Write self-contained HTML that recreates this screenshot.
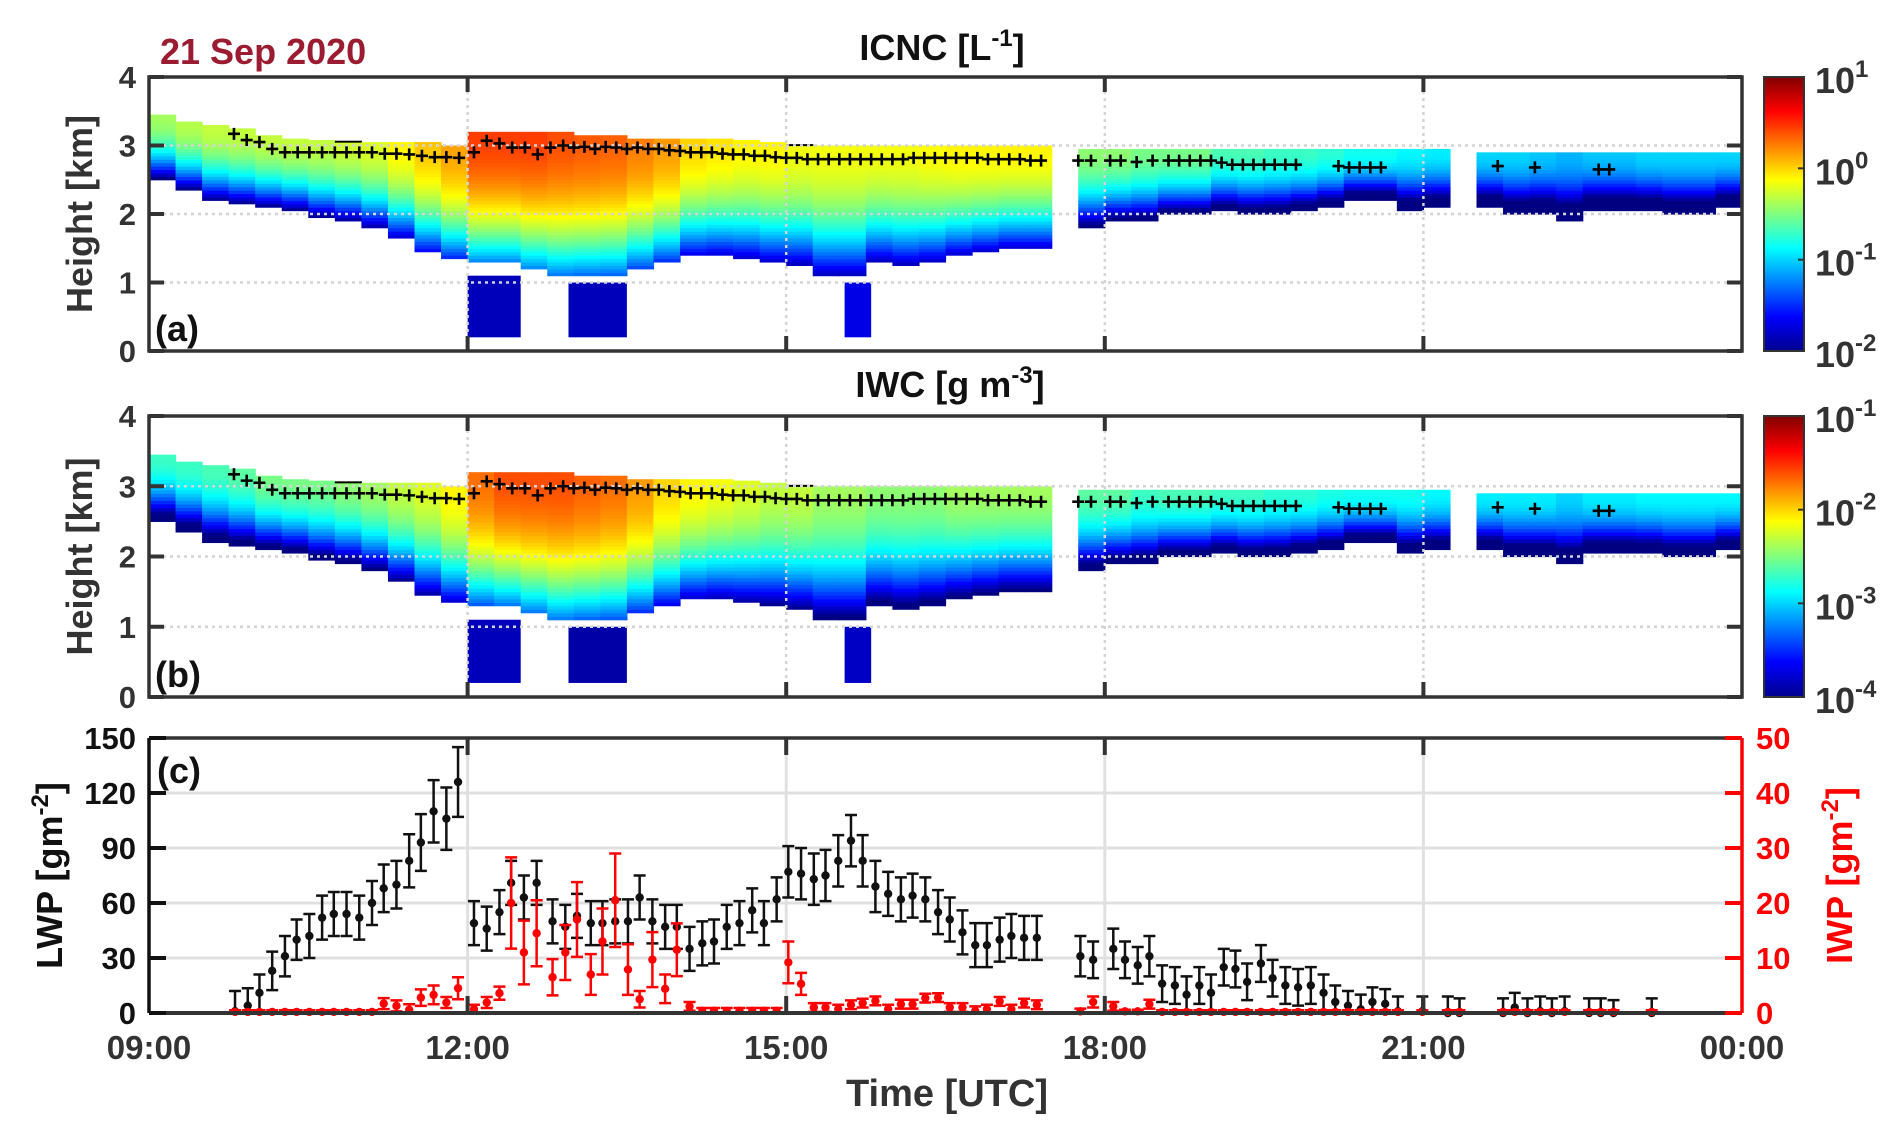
<!DOCTYPE html>
<html><head><meta charset="utf-8"><title>ICNC / IWC / LWP 21 Sep 2020</title>
<style>
html,body{margin:0;padding:0;background:#fff;}
svg{display:block;font-family:"Liberation Sans",Arial,sans-serif;font-weight:bold;}
</style></head>
<body>
<svg id="fig" xmlns="http://www.w3.org/2000/svg" width="1892" height="1133" viewBox="0 0 1892 1133">
<defs>
<linearGradient id="jet" x1="0" y1="1" x2="0" y2="0">
<stop offset="0" stop-color="#00008f"/><stop offset="0.125" stop-color="#0000ff"/>
<stop offset="0.375" stop-color="#00ffff"/><stop offset="0.625" stop-color="#ffff00"/>
<stop offset="0.875" stop-color="#ff0000"/><stop offset="1" stop-color="#800000"/>
</linearGradient>
</defs>
<rect width="1892" height="1133" fill="#fff"/>
<text x="160" y="64" font-size="36" fill="#9b1b30">21 Sep 2020</text>
<text x="942" y="60" font-size="36" fill="#111" text-anchor="middle">ICNC [L<tspan dy="-14" font-size="24">-1</tspan><tspan dy="14">]</tspan></text>
<text x="950" y="397" font-size="36" fill="#111" text-anchor="middle">IWC [g m<tspan dy="-14" font-size="24">-3</tspan><tspan dy="14">]</tspan></text>
<g id="pa"></g>
<g id="pb"></g>
<g id="pc"></g>
<text x="947" y="1106" font-size="38" fill="#333" text-anchor="middle">Time [UTC]</text>
</svg>
<script>
// ---------- data ----------
const colStart = [9,9.25,9.5,9.75,10,10.25,10.5,10.75,11,11.25,11.5,11.75,12,12.25,12.5,12.75,13,13.25,13.5,13.75,14,14.25,14.5,14.75,15,15.25,15.5,15.75,16,16.25,16.5,16.75,17,17.25,17.5,17.75,18,18.25,18.5,18.75,19,19.25,19.5,19.75,20,20.25,20.5,20.75,21,21.25,21.5,21.75,22,22.25,22.5,22.75,23,23.25,23.5,23.75];
const cloudTop = [3.45,3.35,3.3,3.25,3.15,3.1,3.08,3.07,3.05,3.05,3.05,3.0,3.2,3.2,3.2,3.2,3.15,3.15,3.1,3.1,3.1,3.1,3.08,3.05,3.02,3.0,3.0,3.0,3.0,3.0,3.0,3.0,3.0,3.0,0,2.95,2.95,2.95,2.95,2.95,2.95,2.95,2.95,2.95,2.95,2.95,2.95,2.95,2.95,0,2.9,2.9,2.9,2.9,2.9,2.9,2.9,2.9,2.9,2.9];
const cloudBase = [2.5,2.35,2.2,2.15,2.1,2.05,1.95,1.9,1.8,1.65,1.45,1.35,1.3,1.3,1.2,1.1,1.1,1.1,1.2,1.3,1.4,1.4,1.35,1.3,1.25,1.1,1.1,1.3,1.25,1.3,1.4,1.45,1.5,1.5,0,1.8,1.9,1.9,2.0,2.0,2.05,2.0,2.0,2.05,2.1,2.2,2.2,2.05,2.1,0,2.1,2.0,2.0,1.9,2.05,2.05,2.05,2.0,2.0,2.1];
const icncPeak = [0.4,0.45,0.5,0.5,0.5,0.5,0.5,0.55,0.6,0.8,1.1,1.4,2.8,2.8,2.8,2.5,2.3,2.2,1.8,1.5,1.0,0.9,0.8,0.8,0.7,0.7,0.7,0.7,0.7,0.75,0.8,0.8,0.8,0.8,0,0.35,0.35,0.3,0.3,0.3,0.22,0.22,0.2,0.2,0.18,0.15,0.15,0.13,0.12,0,0.1,0.1,0.09,0.08,0.09,0.09,0.1,0.1,0.1,0.1];
const iwcPeak = [0.002,0.002,0.0022,0.0025,0.003,0.003,0.003,0.0035,0.004,0.005,0.006,0.008,0.02,0.025,0.025,0.025,0.022,0.02,0.015,0.01,0.008,0.007,0.006,0.005,0.005,0.004,0.004,0.0035,0.0035,0.0035,0.004,0.004,0.004,0.004,0,0.0025,0.0025,0.002,0.0022,0.0022,0.002,0.002,0.0018,0.0018,0.0016,0.0015,0.0015,0.0015,0.0013,0,0.0012,0.0012,0.0012,0.001,0.0012,0.0012,0.0013,0.0013,0.0013,0.0013];
const lowStart = [12.0,12.95,15.55];
const lowEnd = [12.5,13.5,15.8];
const lowTop = [1.1,1.0,1.0];
const lowIcnc = [0.015,0.015,0.02];
const lowIwc = [0.00015,0.00013,0.00016];
const crossT = [9.8,9.92,10.04,10.16,10.28,10.4,10.51,10.63,10.75,10.86,10.98,11.1,11.22,11.33,11.45,11.57,11.69,11.8,11.92,
 12.06,12.18,12.3,12.42,12.54,12.66,12.78,12.9,13.0,13.1,13.2,13.3,13.4,13.5,13.6,13.7,13.8,13.9,14.0,
 14.1,14.2,14.3,14.4,14.5,14.6,14.7,14.8,14.9,15.0,15.1,15.2,15.3,15.4,15.5,15.6,15.7,15.8,15.9,16.0,16.1,16.2,16.3,16.4,16.5,16.6,16.7,16.8,16.9,17.0,17.1,17.2,17.3,17.4,
 17.75,17.87,18.05,18.15,18.3,18.45,18.6,18.7,18.8,18.9,19.0,19.1,19.2,19.3,19.4,19.5,19.6,19.7,19.8,
 20.2,20.3,20.4,20.5,20.6,21.7,22.05,22.65,22.75];
const crossH = [3.17,3.08,3.05,2.95,2.9,2.9,2.9,2.9,2.9,2.9,2.9,2.9,2.88,2.88,2.87,2.85,2.83,2.83,2.82,
 2.9,3.07,3.03,2.97,2.97,2.87,2.97,3.0,2.97,2.98,2.95,2.98,2.97,2.95,2.97,2.95,2.95,2.93,2.92,
 2.9,2.9,2.9,2.88,2.87,2.87,2.85,2.85,2.83,2.82,2.82,2.8,2.8,2.8,2.8,2.8,2.8,2.8,2.8,2.8,2.8,2.82,2.82,2.82,2.82,2.82,2.82,2.82,2.8,2.8,2.8,2.8,2.78,2.78,
 2.78,2.78,2.78,2.78,2.76,2.78,2.78,2.78,2.78,2.78,2.78,2.75,2.72,2.72,2.72,2.72,2.72,2.72,2.72,
 2.7,2.68,2.68,2.68,2.68,2.7,2.68,2.65,2.65];
const wpT = [9.81,9.93,10.04,10.16,10.28,10.39,10.51,10.63,10.74,10.86,10.98,11.10,11.21,11.33,11.45,11.56,11.68,11.80,11.91,
 12.06,12.18,12.30,12.41,12.53,12.65,12.80,12.92,13.03,13.16,13.27,13.39,13.51,13.62,13.74,13.86,13.97,14.09,14.21,14.32,14.44,14.56,14.68,14.79,14.91,15.02,15.14,15.26,15.37,15.49,15.61,15.72,15.84,15.96,16.08,16.19,16.31,16.43,16.54,16.66,16.78,16.89,17.01,17.12,17.24,17.36,
 17.77,17.89,18.08,18.19,18.31,18.42,18.54,18.66,18.77,18.89,19.0,19.12,19.23,19.34,19.47,19.58,19.70,19.82,19.94,20.06,20.17,20.29,20.41,20.52,20.64,20.76,20.99,21.23,21.34,21.75,21.86,21.98,22.10,22.21,22.33,22.56,22.67,22.79,23.15];
const lwpV = [1,4,11,23,31,40,42,52,54,54,52,60,68,70,83,93,110,106,126,
 49,46,55,71,63,71,50,47,53,49,49,50,50,63,50,47,47,35,38,39,47,49,56,49,62,77,76,73,75,83,94,83,69,65,62,64,62,55,51,44,37,37,40,42,41,41,
 31,29,35,29,26,31,16,15,10,15,11,25,24,17,27,19,15,14,15,11,6,4,2,6,5,1,1,0,0,0,3,0,1,0,1,0,0,0,0];
const lwpE = [11,9.5,10,10.5,11,11,12,12,12,12,12,12,13,13,14.5,15.5,17,17,19,
 12,12,12,12,12,12,12,12,12,12,12,12,12,12,12,12,12,12,12,12,12,12,12,12,12,14,14,14,14,14,14,14,14,12,12,12,12,12,12,12,12,12,12,12,12,12,
 11,10,11,10,10,11,10,10,10,10,10,10,10,10,10,10,10,10,10,10,9,8,8,8,8,8,8,9,8,8,8,8,8,8,8,8,8,7,8];
const iwpV = [0.2,0.2,0.2,0.2,0.2,0.2,0.2,0.2,0.2,0.2,0.2,0.2,1.7,1.3,0.6,2.8,3.3,1.9,4.5,
 0.7,1.9,3.6,20,11,14.5,6.5,11,17,7,13,20.5,7.9,2.5,9.7,4.4,11.5,1.2,0.4,0.4,0.4,0.4,0.4,0.4,0.4,9.2,5.3,1,1,0.7,1.5,1.8,2.2,0.7,1.6,1.6,2.7,2.8,1,1,0.4,0.7,2.1,0.7,1.8,1.5,
 0.3,2,1.2,0.3,0.3,1.6,0.2,0.2,0.2,0.2,0.2,0.2,0.2,0.2,0.2,0.2,0.2,0.2,0.2,0.2,0.2,0.2,0.2,0.2,0.2,0.2,0.2,0.2,0.2,0.2,0.2,0.2,0.2,0.2,0.2,0.2,0.2,0.2,0.2];
const iwpE = [0.3,0.3,0.3,0.3,0.3,0.3,0.3,0.3,0.3,0.3,0.3,0.3,1,1,1,1.5,1.7,1,2,
 0.8,1,1.2,8.3,5.8,6,3.3,5,6.8,3.7,6,8.5,4.6,1.5,5,2.6,4.8,0.8,0.5,0.5,0.5,0.5,0.5,0.5,0.5,3.8,2,0.8,0.8,0.8,0.8,0.8,0.8,0.8,0.8,0.8,0.8,0.8,0.8,0.8,0.8,0.8,0.8,0.8,0.8,0.8,
 0.5,1,0.8,0.3,0.3,0.8,0.3,0.3,0.3,0.3,0.3,0.3,0.3,0.3,0.3,0.3,0.3,0.3,0.3,0.3,0.3,0.3,0.3,0.3,0.3,0.3,0.3,0.3,0.3,0.3,0.3,0.3,0.3,0.3,0.3,0.3,0.3,0.3,0.3];
const xTickLabels = ["09:00","12:00","15:00","18:00","21:00","00:00"];
const xTickHours = [9,12,15,18,21,24];
const hTicks = [0,1,2,3,4];
const lwpTicks = [0,30,60,90,120,150];
const iwpTicks = [0,10,20,30,40,50];

// ---------- helpers ----------
const NS = "http://www.w3.org/2000/svg";
function mk(parent, tag, attrs){
  const el = document.createElementNS(NS, tag);
  for (const k in attrs) el.setAttribute(k, attrs[k]);
  parent.appendChild(el);
  return el;
}
const X0 = 149, X1 = 1742;
function X(t){ return X0 + (t - 9) / 15 * (X1 - X0); }
function jet(v){
  v = Math.max(0, Math.min(1, v));
  const c = (a)=>Math.round(255*Math.max(0, Math.min(1, a)));
  return "rgb(" + c(1.5-Math.abs(4*v-3)) + "," + c(1.5-Math.abs(4*v-2)) + "," + c(1.5-Math.abs(4*v-1)) + ")";
}
const AX = "#333";

function heightPanel(g, top, bot, peaks, lowVals, cmin, cmax, label, cbLabels){
  const Y = (h)=> bot - h/4*(bot-top);
  const lmin = Math.log10(cmin), lmax = Math.log10(cmax);
  const heat = mk(g, "g", {});
  
  
  const dh = 0.05;
  for (let i = 0; i < colStart.length; i++){
    const tp = cloudTop[i], bs = cloudBase[i], pk = peaks[i];
    if (!tp || !pk) continue;
    const x0 = X(colStart[i]), x1 = X(colStart[i] + 0.25);
    for (let h = bs; h < tp - 1e-6; h += dh){
      const frac = (tp - (h + dh/2)) / (tp - bs);
      const lv = Math.log10(pk) - 1.7 * Math.pow(frac, 2.2);
      const cell = mk(heat, "rect", {x: x0.toFixed(2), y: Y(Math.min(h+dh, tp)).toFixed(2), width: (x1-x0+0.6).toFixed(2), height: (Y(h)-Y(Math.min(h+dh,tp))+0.6).toFixed(2), fill: jet((lv-lmin)/(lmax-lmin))});
      
      
    }
  }
  for (let j = 0; j < lowStart.length; j++){
    const lv = Math.log10(lowVals[j]);
    const blob = mk(heat, "rect", {x: X(lowStart[j]), y: Y(lowTop[j]), width: X(lowEnd[j]) - X(lowStart[j]), height: Y(0.2) - Y(lowTop[j]), fill: jet((lv-lmin)/(lmax-lmin))});
    
    
  }
  for (let k = 1; k < 4; k++){
    const gl = mk(g, "line", {x1: X0, x2: X1, y1: Y(k), y2: Y(k), stroke: "#d4d4d4", "stroke-width": 2.5, "stroke-dasharray": "3 4"});
    
    
  }
  for (let k = 1; k < 5; k++){
    const gl = mk(g, "line", {x1: X(xTickHours[k]), x2: X(xTickHours[k]), y1: top, y2: bot, stroke: "#d4d4d4", "stroke-width": 2.5, "stroke-dasharray": "3 4"});
    
    
  }
  for (let i = 0; i < Math.min(crossT.length, crossH.length); i++){
    const cx = X(crossT[i]), cy = Y(crossH[i]);
    const cr = mk(g, "path", {d: "M"+(cx-6)+" "+cy+"h12M"+cx+" "+(cy-6)+"v12", stroke: "#000", "stroke-width": 2.6, fill: "none"});
    
    
  }
  const box = mk(g, "rect", {x: X0, y: top, width: X1-X0, height: bot-top, fill: "none", stroke: AX, "stroke-width": 3.5});
  
  
  for (let k = 0; k < hTicks.length; k++){
    const y = Y(hTicks[k]);
    const t1 = mk(g, "path", {d: "M"+X0+" "+y+"h15M"+X1+" "+y+"h-15", stroke: AX, "stroke-width": 4});
    
    
    const tl = mk(g, "text", {x: 136, y: y + 11, "font-size": 31, fill: AX, "text-anchor": "end"});
    tl.textContent = String(hTicks[k]);
    
    
  }
  for (let k = 1; k < 5; k++){
    const x = X(xTickHours[k]);
    const t2 = mk(g, "path", {d: "M"+x+" "+top+"v15M"+x+" "+bot+"v-15", stroke: AX, "stroke-width": 4});
    
    
  }
  const yl = mk(g, "text", {x: 0, y: 0, "font-size": 36, fill: AX, "text-anchor": "middle", transform: "translate(92 " + ((top+bot)/2) + ") rotate(-90)"});
  yl.textContent = "Height [km]";
  
  
  const pl = mk(g, "text", {x: 155, y: bot - 10, "font-size": 36, fill: "#111"});
  pl.textContent = label;
  
  
  const cb = mk(g, "rect", {x: 1764, y: top, width: 40, height: bot-top, fill: "url(#jet)", stroke: AX, "stroke-width": 2});
  
  
  for (let k = 0; k < cbLabels.length; k++){
    const y = bot - k/(cbLabels.length-1)*(bot-top);
    const ct = mk(g, "line", {x1: 1798, x2: 1804, y1: y, y2: y, stroke: AX, "stroke-width": 2});
    
    
    const lab = mk(g, "text", {x: 1815, y: y + 16, "font-size": 36, fill: AX});
    
    
    lab.textContent = "10";
    const sup = mk(lab, "tspan", {dy: -16, "font-size": 24});
    sup.textContent = cbLabels[k];
  }
}

heightPanel(document.getElementById("pa"), 77, 351, icncPeak, lowIcnc, 0.01, 10, "(a)", ["-2","-1","0","1"]);
heightPanel(document.getElementById("pb"), 416, 697, iwcPeak, lowIwc, 0.0001, 0.1, "(b)", ["-4","-3","-2","-1"]);

// ---------- panel c ----------
(function(){
  const g = document.getElementById("pc");
  const top = 738, bot = 1013;
  const YL = (v)=> bot - v/150*(bot-top);
  const YR = (v)=> bot - v/50*(bot-top);
  for (let k = 1; k < lwpTicks.length - 1; k++){
    const gl = mk(g, "line", {x1: X0, x2: X1, y1: YL(lwpTicks[k]), y2: YL(lwpTicks[k]), stroke: "#e0e0e0", "stroke-width": 3});
    
    
  }
  for (let k = 1; k < 5; k++){
    const gl = mk(g, "line", {x1: X(xTickHours[k]), x2: X(xTickHours[k]), y1: top, y2: bot, stroke: "#e0e0e0", "stroke-width": 3});
    
    
  }
  function series(vals, errs, Y, color, name){
    const sg = mk(g, "g", {});
    
    
    const n = Math.min(wpT.length, vals.length, errs.length);
    for (let i = 0; i < n; i++){
      const x = X(wpT[i]);
      const yv = Y(vals[i]);
      const yt = Y(vals[i] + errs[i]);
      const yb = Math.min(bot, Y(vals[i] - errs[i]));
      const eb = mk(sg, "path", {d: "M"+x+" "+yt+"V"+yb+"M"+(x-6)+" "+yt+"h12M"+(x-6)+" "+yb+"h12", stroke: color, "stroke-width": 2.5, fill: "none"});
      
      
      const pt = mk(sg, "circle", {cx: x, cy: yv, r: 4.2, fill: color});
      
      
    }
  }
  series(lwpV, lwpE, YL, "#111", "lwp-series");
  series(iwpV, iwpE, YR, "#ff0000", "iwp-series");
  const tl = mk(g, "line", {x1: X0, x2: X1, y1: top, y2: top, stroke: AX, "stroke-width": 3.5});
  
  
  const bl = mk(g, "line", {x1: X0, x2: X1, y1: bot, y2: bot, stroke: AX, "stroke-width": 4});
  
  
  const ll = mk(g, "line", {x1: X0, x2: X0, y1: top, y2: bot, stroke: "#111", "stroke-width": 3.5});
  
  
  const rl = mk(g, "line", {x1: X1, x2: X1, y1: top, y2: bot, stroke: "#ff0000", "stroke-width": 3.5});
  
  
  for (let k = 0; k < lwpTicks.length; k++){
    const y = YL(lwpTicks[k]);
    const t = mk(g, "line", {x1: X0, x2: X0+17, y1: y, y2: y, stroke: "#111", "stroke-width": 4});
    
    
    const lab = mk(g, "text", {x: 136, y: y + 11, "font-size": 31, fill: "#111", "text-anchor": "end"});
    lab.textContent = String(lwpTicks[k]);
    
    
  }
  for (let k = 0; k < iwpTicks.length; k++){
    const y = YR(iwpTicks[k]);
    const t = mk(g, "line", {x1: X1-17, x2: X1, y1: y, y2: y, stroke: "#ff0000", "stroke-width": 4});
    
    
    const lab = mk(g, "text", {x: 1756, y: y + 11, "font-size": 31, fill: "#ff0000"});
    lab.textContent = String(iwpTicks[k]);
    
    
  }
  for (let k = 0; k < xTickHours.length; k++){
    const x = X(xTickHours[k]);
    if (k > 0 && k < 5){
      const t = mk(g, "path", {d: "M"+x+" "+top+"v17M"+x+" "+bot+"v-17", stroke: AX, "stroke-width": 4});
      
      
    }
    const lab = mk(g, "text", {x: x, y: 1059, "font-size": 33, fill: AX, "text-anchor": "middle"});
    lab.textContent = xTickLabels[k];
    
    
  }
  const yl = mk(g, "text", {x: 0, y: 0, "font-size": 36, fill: "#111", "text-anchor": "middle", transform: "translate(62 " + ((top+bot)/2) + ") rotate(-90)"});
  
  
  yl.textContent = "LWP [gm";
  const s1 = mk(yl, "tspan", {dy: -14, "font-size": 24}); s1.textContent = "-2";
  const s2 = mk(yl, "tspan", {dy: 14}); s2.textContent = "]";
  const yr = mk(g, "text", {x: 0, y: 0, "font-size": 36, fill: "#ff0000", "text-anchor": "middle", transform: "translate(1852 " + ((top+bot)/2) + ") rotate(-90)"});
  
  
  yr.textContent = "IWP [gm";
  const s3 = mk(yr, "tspan", {dy: -14, "font-size": 24}); s3.textContent = "-2";
  const s4 = mk(yr, "tspan", {dy: 14}); s4.textContent = "]";
  const pl = mk(g, "text", {x: 157, y: top + 45, "font-size": 36, fill: "#111"});
  pl.textContent = "(c)";
  
  
})();
</script>
</body></html>
